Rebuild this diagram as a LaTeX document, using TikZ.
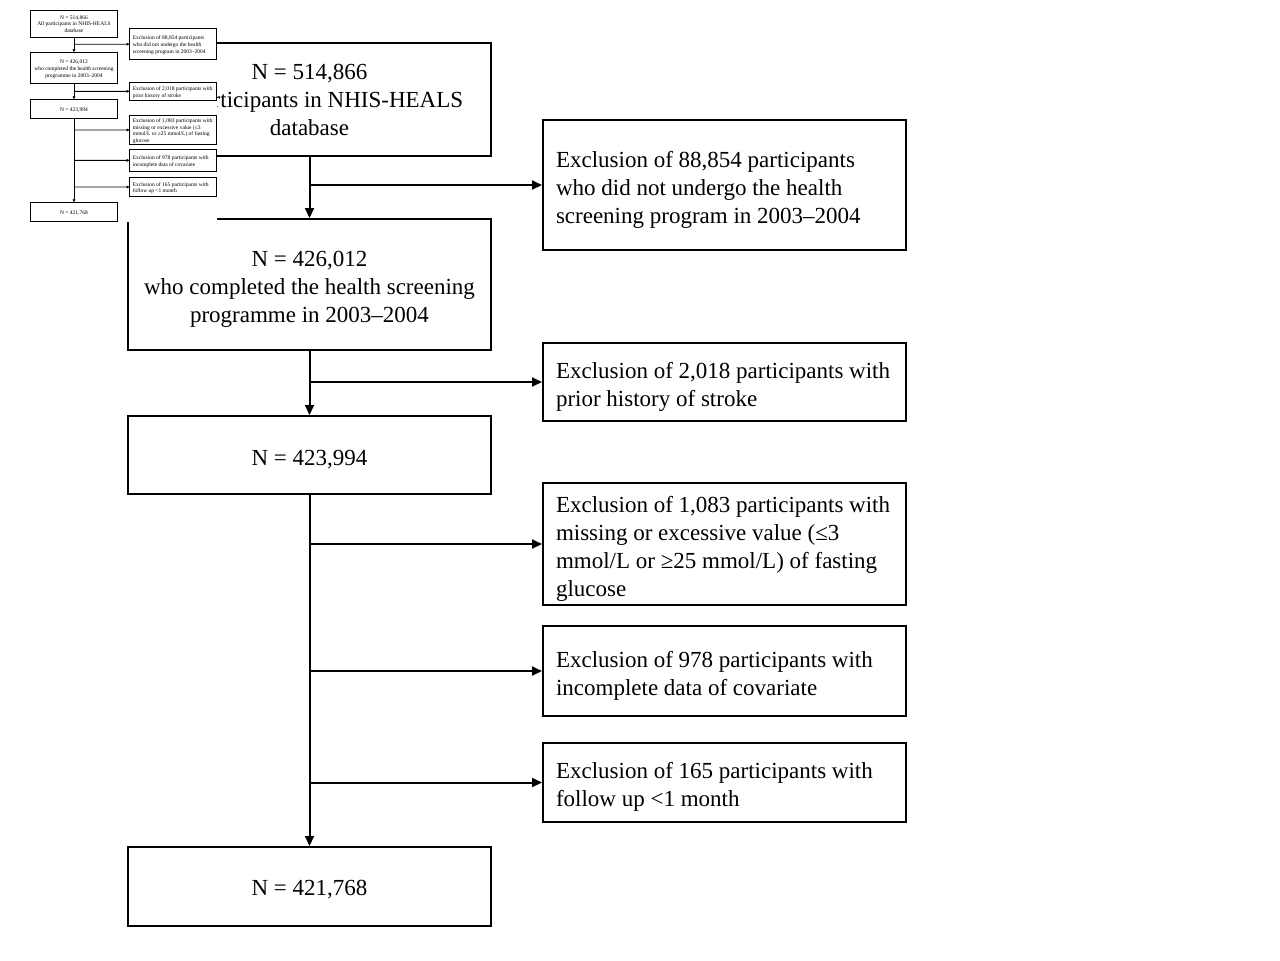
\documentclass[tikz,border=0pt]{standalone}
\usepackage{fontspec}
\setmainfont{Liberation Serif}
\usetikzlibrary{arrows.meta}

\newcommand{\flowfont}{\fontsize{11.5pt}{14pt}\selectfont}

\tikzset{
  lbox/.style={draw, line width=1pt, inner sep=0pt, minimum width=181.5pt,
    minimum height=#1},
  rbox/.style={lbox=#1},
  ltext/.style={align=center, font=\flowfont, inner sep=0pt, yshift=-2.25pt},
  rtext/.style={align=flush left, text width=168.5pt, font=\flowfont,
    inner sep=0pt, yshift=-2.25pt},
  flow/.style={draw, line width=1pt, -{Triangle[length=5pt,width=4.5pt]}},
}

% the whole flow chart, drawn once at full size and once as the small copy
\newcommand{\flowchart}{%
  \node[lbox=56.5pt, label={[ltext, yshift=2pt]center:{N = 514,866\\All participants in NHIS-HEALS\\database}}] (all) at (309.5,99.5) {};
  \node[lbox=65.5pt, label={[ltext]center:{N = 426,012\\who completed the health screening\\programme in 2003--2004}}] (screened) at (309.5,284.5) {};
  \node[lbox=39pt,   label={[ltext]center:{N = 423,994}}] (nostroke) at (309.5,455) {};
  \node[lbox=39.5pt, label={[ltext, yshift=0.75pt]center:{N = 421,768}}] (final) at (309.5,886.5) {};

  \node[rbox=65pt,   label={[rtext]center:{Exclusion of 88,854 participants\\who did not undergo the health\\screening program in 2003--2004}}] (exscreen) at (724.5,185) {};
  \node[rbox=39pt,   label={[rtext]center:{Exclusion of 2,018 participants with\\prior history of stroke}}] (exstroke) at (724.5,382) {};
  \node[rbox=61pt,   label={[rtext]center:{Exclusion of 1,083 participants with\\missing or excessive value (≤3\\mmol/L or ≥25 mmol/L) of fasting\\glucose}}] (exglucose) at (724.5,544) {};
  \node[rbox=45pt,   label={[rtext]center:{Exclusion of 978 participants with\\incomplete data of covariate}}] (excovar) at (724.5,671) {};
  \node[rbox=39.5pt, label={[rtext]center:{Exclusion of 165 participants with\\follow up <1 month}}] (exfollow) at (724.5,782.5) {};

  \coordinate (j1) at (all.south |- exscreen.west);
  \coordinate (j2) at (all.south |- exstroke.west);
  \coordinate (j3) at (all.south |- exglucose.west);
  \coordinate (j4) at (all.south |- excovar.west);
  \coordinate (j5) at (all.south |- exfollow.west);

  \draw[flow] (all) -- (screened);
  \draw[flow] (screened) -- (nostroke);
  \draw[flow] (nostroke) -- (final);

  \draw[flow] (j1) -- (exscreen);
  \draw[flow] (j2) -- (exstroke);
  \draw[flow] (j3) -- (exglucose);
  \draw[flow] (j4) -- (excovar);
  \draw[flow] (j5) -- (exfollow);
}

\begin{document}
\begin{tikzpicture}[x=0.5pt,y=-0.5pt]
  \useasboundingbox (0,0) rectangle (1280,960);

  \flowchart

  % small copy in the corner
  \fill[white] (0,0) rectangle (217,222);
  \begin{scope}[scale=0.239, transform shape, name prefix=mini-,
      lbox/.append style={line width=0.45pt},
      flow/.append style={line width=0.45pt, -{Triangle[length=1.5pt,width=1.3pt]}}]
    \flowchart
  \end{scope}

\end{tikzpicture}
\end{document}
